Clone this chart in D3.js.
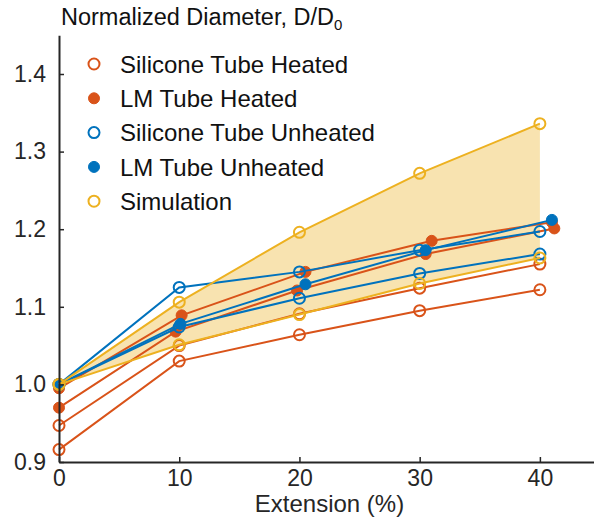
<!DOCTYPE html>
<html>
<head>
  <meta charset="utf-8">
  <title>Normalized diameter vs extension</title>
  <script src="https://d3js.org/d3.v7.min.js"></script>
  <style>
    html, body { margin: 0; padding: 0; background: #fff; }
    svg { display: block; font-family: "Liberation Sans", Arial, Helvetica, sans-serif; }
  </style>
</head>
<body>
  <svg width="594" height="521"></svg>
  <script>
    // ---- data ----
    const extension = [0, 10, 20, 30, 40];

    const siliconeHeated1 = [0.916, 1.030, 1.064, 1.095, 1.122];
    const siliconeHeated2 = [0.947, 1.050, 1.091, 1.124, 1.155];

    const lmHeatedX1 = [0, 9.7, 19.8, 30.5, 41.2];
    const lmHeated1 = [0.970, 1.068, 1.121, 1.168, 1.201];
    const lmHeatedX2 = [0, 10.2, 20.5, 31, 41];
    const lmHeated2 = [0.995, 1.089, 1.145, 1.185, 1.209];

    const siliconeUnheated1 = [1.000, 1.125, 1.145, 1.173, 1.197];
    const siliconeUnheated2 = [1.000, 1.074, 1.111, 1.143, 1.168];

    const lmUnheatedX = [0, 10.1, 20.5, 30.5, 41];
    const lmUnheated = [1.000, 1.078, 1.129, 1.173, 1.212];

    const simUpper = [1.000, 1.106, 1.196, 1.272, 1.336];
    const simLower = [1.000, 1.051, 1.090, 1.130, 1.163];

    const yTicks = [0.9, 1.0, 1.1, 1.2, 1.3, 1.4];
    const xTicks = [0, 10, 20, 30, 40];
    const legendLabels = ["Silicone Tube Heated", "LM Tube Heated", "Silicone Tube Unheated", "LM Tube Unheated", "Simulation"];

    const orange = "#D95319", blue = "#0072BD", yellow = "#EDB120";
    const ink = "#262626";

    const zip = (xs, ys) => xs.map((x, i) => ({x: x, y: ys[i]}));

    const series = [
      {pts: zip(extension, siliconeHeated1), color: orange, filled: false},
      {pts: zip(extension, siliconeHeated2), color: orange, filled: false},
      {pts: zip(lmHeatedX1, lmHeated1), color: orange, filled: true},
      {pts: zip(lmHeatedX2, lmHeated2), color: orange, filled: true},
      {pts: zip(extension, siliconeUnheated1), color: blue, filled: false},
      {pts: zip(extension, siliconeUnheated2), color: blue, filled: false},
      {pts: zip(lmUnheatedX, lmUnheated), color: blue, filled: true},
      {pts: zip(extension, simUpper), color: yellow, filled: false},
      {pts: zip(extension, simLower), color: yellow, filled: false}
    ];

    const svg = d3.select("svg");

    const x = d3.scaleLinear().domain([0, 45]).range([59, 600]);
    const y = d3.scaleLinear().domain([0.9, 1.45]).range([462, 35.2]);

    // simulation band
    const band = extension.map((e, i) => ({x: e, lo: simLower[i], hi: simUpper[i]}));
    svg.append("path")
      .datum(band)
      .attr("fill", "#F8E3B0")
      .attr("d", d3.area()
        .x(d => x(d.x))
        .y0(d => y(d.lo))
        .y1(d => y(d.hi)));

    const line = d3.line().x(d => x(d.x)).y(d => y(d.y));

    const g = svg.append("g");
    series.forEach(s => {
      g.append("path")
        .datum(s.pts)
        .attr("fill", "none")
        .attr("stroke", s.color)
        .attr("stroke-width", 2)
        .attr("d", line);
      g.selectAll(null)
        .data(s.pts)
        .enter()
        .append("circle")
        .attr("cx", d => x(d.x))
        .attr("cy", d => y(d.y))
        .attr("r", 5.5)
        .attr("fill", s.filled ? s.color : "none")
        .attr("stroke", s.color)
        .attr("stroke-width", s.filled ? 1 : 2);
    });

    // axes
    const yAxis = svg.append("g")
      .attr("transform", `translate(${x(0)},0)`)
      .call(d3.axisLeft(y).tickValues(yTicks).tickFormat(d3.format(".1f"))
        .tickSizeInner(-5).tickSizeOuter(0).tickPadding(13));
    const xAxis = svg.append("g")
      .attr("transform", `translate(0,${y(0.9)})`)
      .call(d3.axisBottom(x).tickValues(xTicks).tickFormat(d3.format("d"))
        .tickSizeInner(-5).tickSizeOuter(0).tickPadding(8));

    [yAxis, xAxis].forEach(a => {
      a.attr("font-family", null);
      a.select(".domain").attr("stroke", ink).attr("stroke-width", 2);
      a.selectAll(".tick line").attr("stroke", ink).attr("stroke-width", 1.5);
      a.selectAll(".tick text").attr("fill", ink).style("font-size", "23px");
    });

    // axis labels
    svg.append("text")
      .attr("x", (x.range()[0] + x.range()[1]) / 2)
      .attr("y", 512)
      .attr("text-anchor", "middle")
      .attr("fill", ink)
      .style("font-size", "24px")
      .text("Extension (%)");

    const title = svg.append("text")
      .attr("x", 61)
      .attr("y", 25)
      .attr("fill", "#111")
      .style("font-size", "23.5px")
      .text("Normalized Diameter, D/D");
    title.append("tspan")
      .attr("dy", 5)
      .style("font-size", "15px")
      .text("0");

    // legend
    const legendColors = [orange, orange, blue, blue, yellow];
    const legendFilled = [false, true, false, true, false];
    const leg = svg.append("g").selectAll("g")
      .data(legendLabels)
      .enter()
      .append("g")
      .attr("transform", (d, i) => `translate(94,${64 + i * 34.3})`);
    leg.append("circle")
      .attr("r", 5.5)
      .attr("fill", (d, i) => legendFilled[i] ? legendColors[i] : "none")
      .attr("stroke", (d, i) => legendColors[i])
      .attr("stroke-width", (d, i) => legendFilled[i] ? 1 : 2);
    leg.append("text")
      .attr("x", 26)
      .attr("dy", "0.36em")
      .attr("fill", "#111")
      .style("font-size", "24px")
      .text(d => d);
  </script>
</body>
</html>
